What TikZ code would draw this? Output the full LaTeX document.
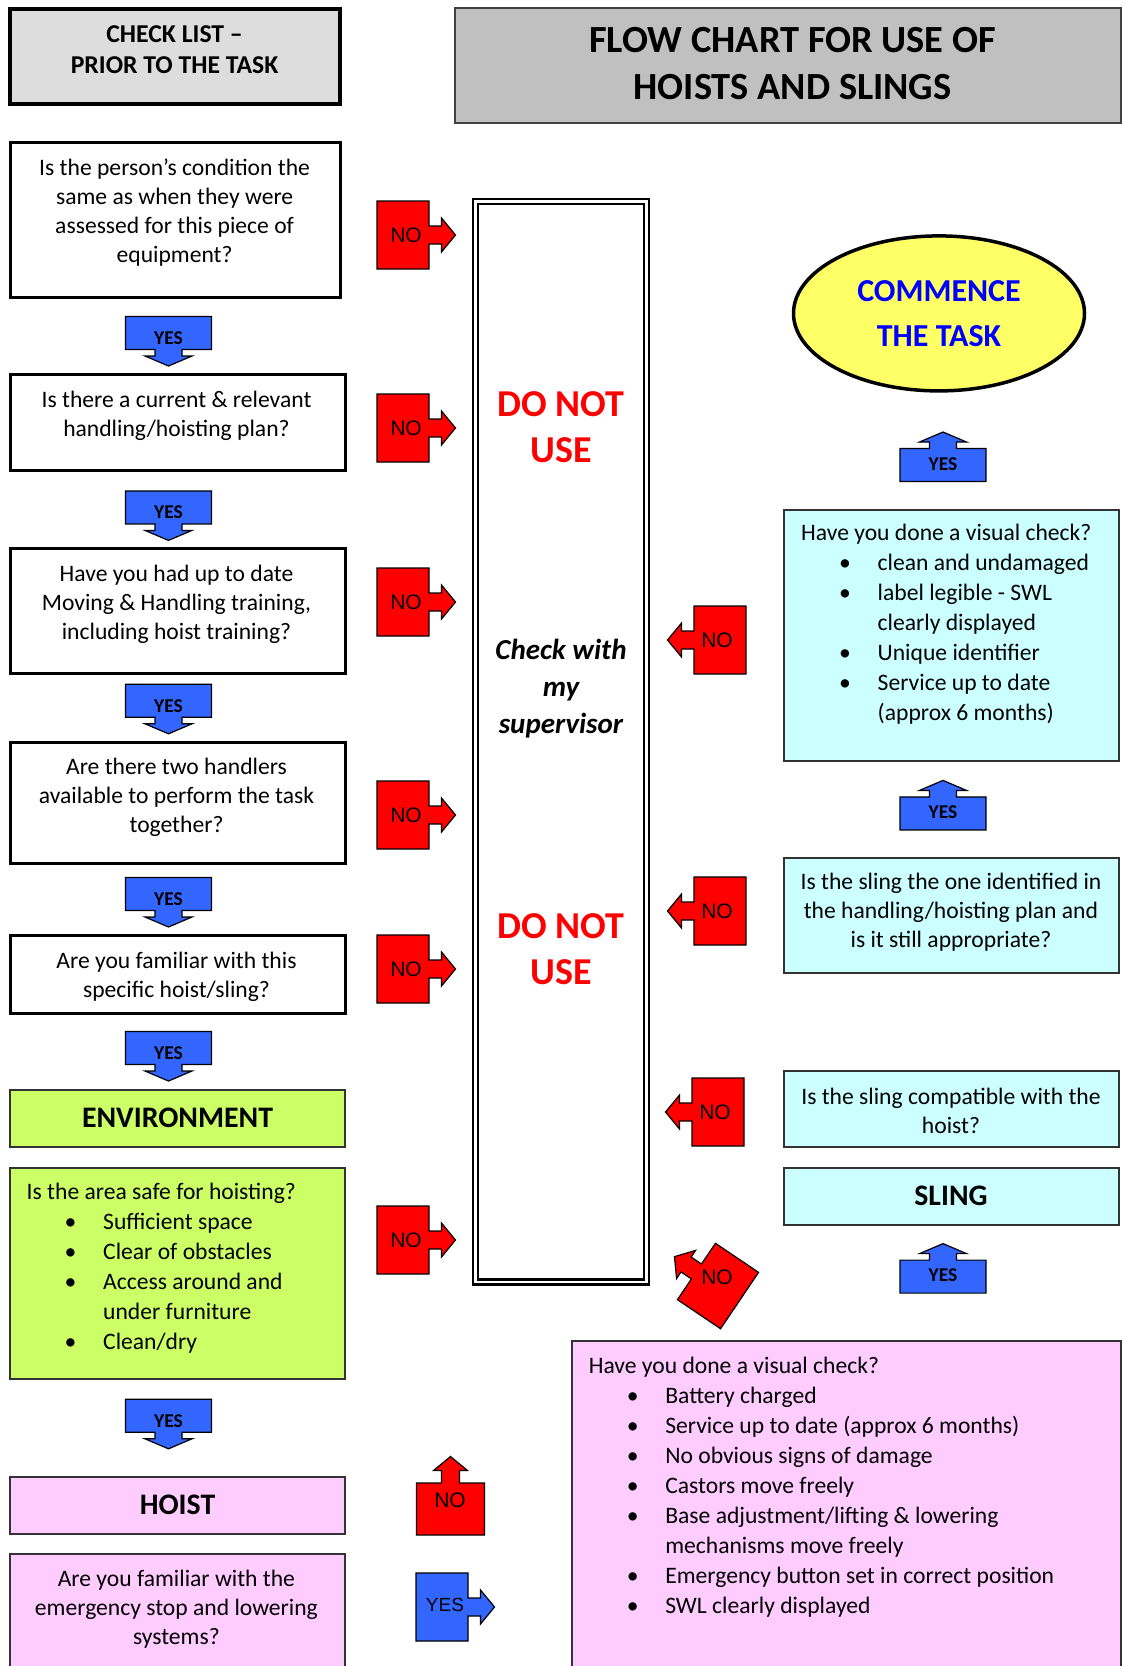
\documentclass[tikz,border=0pt]{standalone}
\usepackage{fontspec}
\setmainfont{Carlito}
\newfontfamily\arialfont{Liberation Sans}
\usetikzlibrary{shapes.geometric}

\definecolor{chkgrey}{HTML}{DDDDDD}
\definecolor{ttlgrey}{HTML}{C0C0C0}
\definecolor{envgreen}{HTML}{CCFF66}
\definecolor{hoistpink}{HTML}{FFCCFF}
\definecolor{slingcyan}{HTML}{CCFFFF}
\definecolor{taskyellow}{HTML}{FFFF66}
\definecolor{taskblue}{HTML}{0000FF}
\definecolor{yesblue}{HTML}{3366FF}
\definecolor{nored}{HTML}{FF0000}

\tikzset{
  qbox/.style={draw=black, line width=3pt, fill=white},
  envbox/.style={draw=black!80, line width=1.3pt, fill=envgreen},
  hoistbox/.style={draw=black!80, line width=1.3pt, fill=hoistpink},
  slingbox/.style={draw=black!80, line width=1.3pt, fill=slingcyan},
  qtext/.style={align=center, inner sep=0pt, yshift=-2.5pt, font=\fontsize{23.6}{29}\selectfont},
  ltext/.style={align=left, anchor=west, inner sep=0pt, yshift=-2.5pt, font=\fontsize{23.6}{30}\selectfont},
  headtext/.style={align=center, inner sep=0pt, font=\bfseries\fontsize{29.8}{36}\selectfont},
  stoptext/.style={align=center, inner sep=0pt, text=nored, font=\bfseries\fontsize{38}{45.7}\selectfont},
  calline/.style={draw=black, line width=1.2pt},
  calltext/.style={inner sep=0pt, font=\arialfont\fontsize{21}{24}\selectfont},
  yestext/.style={inner sep=0pt, font=\bfseries\fontsize{19.5}{22}\selectfont}
}

% bullet line of a check list
\newcommand{\bul}[1]{\makebox[76.5pt][l]{\hspace*{38pt}\textbullet}#1}
% red/blue box with an arrow: name, box centre, angle, fill, label position, label
\newcommand{\bigcall}[6]{%
  \draw[calline, fill=#4, shift={(#2)}, rotate=#3]
    (-26,-34) -- (26,-34) -- (26,-9) -- (38.5,-9) -- (38.5,-17) -- (52.5,0)
    -- (38.5,17) -- (38.5,9) -- (26,9) -- (26,34) -- (-26,34) -- cycle;
  \node[calltext] (#1) at (#5) {#6}}
% flat blue YES arrow: name, box centre, angle, label position
\newcommand{\yescall}[4]{%
  \draw[calline, fill=yesblue, shift={(#2)}, rotate=#3]
    (-16.5,-43) -- (16.5,-43) -- (16.5,-13.5) -- (23,-13.5) -- (23,-23.5) -- (33,0)
    -- (23,23.5) -- (23,13.5) -- (16.5,13.5) -- (16.5,43) -- (-16.5,43) -- cycle;
  \node[yestext] (#1) at (#4) {YES}}

\begin{document}
\begin{tikzpicture}[x=1pt, y=-1pt]
\useasboundingbox (0,0) rectangle (1123,1666);

% headings
\draw[draw=black, line width=4pt, fill=chkgrey] (10,9) rectangle (340,104);
\node[align=center, inner sep=0pt, font=\bfseries\fontsize{25.7}{31}\selectfont] (chk) at (174.6,49.4) {CHECK LIST –\\PRIOR TO THE TASK};
\draw[draw=black!75, line width=1.5pt, fill=ttlgrey] (455,8) rectangle (1121,123);
\node[align=center, inner sep=0pt, font=\bfseries\fontsize{38.4}{46.8}\selectfont] (ttl) at (792.6,63.75) {FLOW CHART FOR USE OF\\HOISTS AND SLINGS};

% left column
\draw[qbox] (10,142) rectangle (340,297);
\node[qtext] (person) at (174.6,209.8) {Is the person’s condition the\\same as when they were\\assessed for this piece of\\equipment?};
\draw[qbox] (10,374) rectangle (345,470);
\node[qtext] (plan) at (176.5,413.3) {Is there a current \& relevant\\handling/hoisting plan?};
\draw[qbox] (10,548) rectangle (345,673);
\node[qtext] (training) at (176.5,601.4) {Have you had up to date\\Moving \& Handling training,\\including hoist training?};
\draw[qbox] (10,742) rectangle (345,863);
\node[qtext] (handlers) at (176.5,794.75) {Are there two handlers\\available to perform the task\\together?};
\draw[qbox] (10,935) rectangle (345,1013);
\node[qtext] (familiar) at (176.5,974.8) {Are you familiar with this\\specific hoist/sling?};

\draw[envbox] (10,1090) rectangle (345,1147);
\node[headtext] (env) at (177.5,1117.7) {ENVIRONMENT};
\draw[envbox] (10,1168) rectangle (345,1379);
\node[ltext] (area) at (26.5,1265.5) {Is the area safe for hoisting?\\
  \bul{Sufficient space}\\
  \bul{Clear of obstacles}\\
  \bul{Access around and}\\
  \hspace*{76.5pt}under furniture\\
  \bul{Clean/dry}};

\draw[hoistbox] (10,1477) rectangle (345,1534);
\node[headtext] (hoist) at (177.5,1504.5) {HOIST};
\draw[hoistbox] (10,1554) rectangle (345,1690);
\node[qtext] (emergency) at (176.4,1606.5) {Are you familiar with the\\emergency stop and lowering\\systems?};

\yescall{yes1}{168.5,333}{-90}{168.5,338};
\yescall{yes2}{168.5,507.4}{-90}{168.5,512.4};
\yescall{yes3}{168.5,700.8}{-90}{168.5,705.8};
\yescall{yes4}{168.5,894}{-90}{168.5,899};
\yescall{yes5}{168.5,1048}{-90}{168.5,1053};
\yescall{yes6}{168.5,1415.8}{-90}{168.5,1420.8};

% NO arrows into the middle
\bigcall{no1}{403,235}{0}{nored}{406,235}{NO};
\bigcall{no2}{403,428}{0}{nored}{406,428}{NO};
\bigcall{no3}{403,602}{0}{nored}{406,602}{NO};
\bigcall{no4}{403,815}{0}{nored}{406,815}{NO};
\bigcall{no5}{403,969}{0}{nored}{406,969}{NO};
\bigcall{no6}{403,1240}{0}{nored}{406,1240}{NO};
\bigcall{no7}{450.5,1509}{90}{nored}{450,1500}{NO};
\bigcall{yes7}{442,1607}{0}{yesblue}{445,1605}{\fontsize{19}{22}\selectfont YES};

% middle column
\draw[draw=black, line width=2.5pt, double=white, double distance=2.5pt] (475.5,201.5) rectangle (646.5,1282);
\node[stoptext] (stop1) at (561,427) {DO NOT\\USE};
\node[align=center, inner sep=0pt, font=\bfseries\itshape\fontsize{29}{37}\selectfont] (super) at (561,688.4) {Check with\\my\\supervisor};
\node[stoptext] (stop2) at (561,949) {DO NOT\\USE};

% right column
\node[ellipse, draw=black, line width=3.5pt, fill=taskyellow, minimum width=291pt, minimum height=155pt, inner sep=0pt,
      align=center, text=taskblue, font=\bfseries\fontsize{32}{44.6}\selectfont] (task) at (939,313.4) {COMMENCE\\THE TASK};
\yescall{yes8}{943,465}{90}{943,464};

\draw[slingbox] (784,510) rectangle (1119,761);
\node[ltext] (slingcheck) at (801,621.5) {Have you done a visual check?\\
  \bul{clean and undamaged}\\
  \bul{label legible - SWL}\\
  \hspace*{76.5pt}clearly displayed\\
  \bul{Unique identifier}\\
  \bul{Service up to date}\\
  \hspace*{76.5pt}(approx 6 months)};
\bigcall{no8}{720,640}{180}{nored}{717,640}{NO};
\yescall{yes9}{943,813.4}{90}{943,812.4};

\draw[slingbox] (784,858) rectangle (1119,973);
\node[qtext] (slingplan) at (951,910) {Is the sling the one identified in\\the handling/hoisting plan and\\is it still appropriate?};
\bigcall{no9}{720,911}{180}{nored}{717,911}{NO};

\draw[slingbox] (784,1071) rectangle (1119,1147);
\node[qtext] (compat) at (951,1108) {Is the sling compatible with the\\hoist?};
\bigcall{no10}{718,1112}{180}{nored}{715,1112}{NO};

\draw[slingbox] (784,1168) rectangle (1119,1225);
\node[headtext] (sling) at (951,1196) {SLING};
\yescall{yes10}{943,1276.6}{90}{943,1275.6};
\bigcall{no11}{718,1286}{146}{nored}{717,1277}{NO};

\draw[hoistbox] (572,1341) rectangle (1121,1690);
\node[ltext] (hoistcheck) at (588.6,1484.8) {Have you done a visual check?\\
  \bul{Battery charged}\\
  \bul{Service up to date (approx 6 months)}\\
  \bul{No obvious signs of damage}\\
  \bul{Castors move freely}\\
  \bul{Base adjustment/lifting \& lowering}\\
  \hspace*{76.5pt}mechanisms move freely\\
  \bul{Emergency button set in correct position}\\
  \bul{SWL clearly displayed}};

\end{tikzpicture}
\end{document}
